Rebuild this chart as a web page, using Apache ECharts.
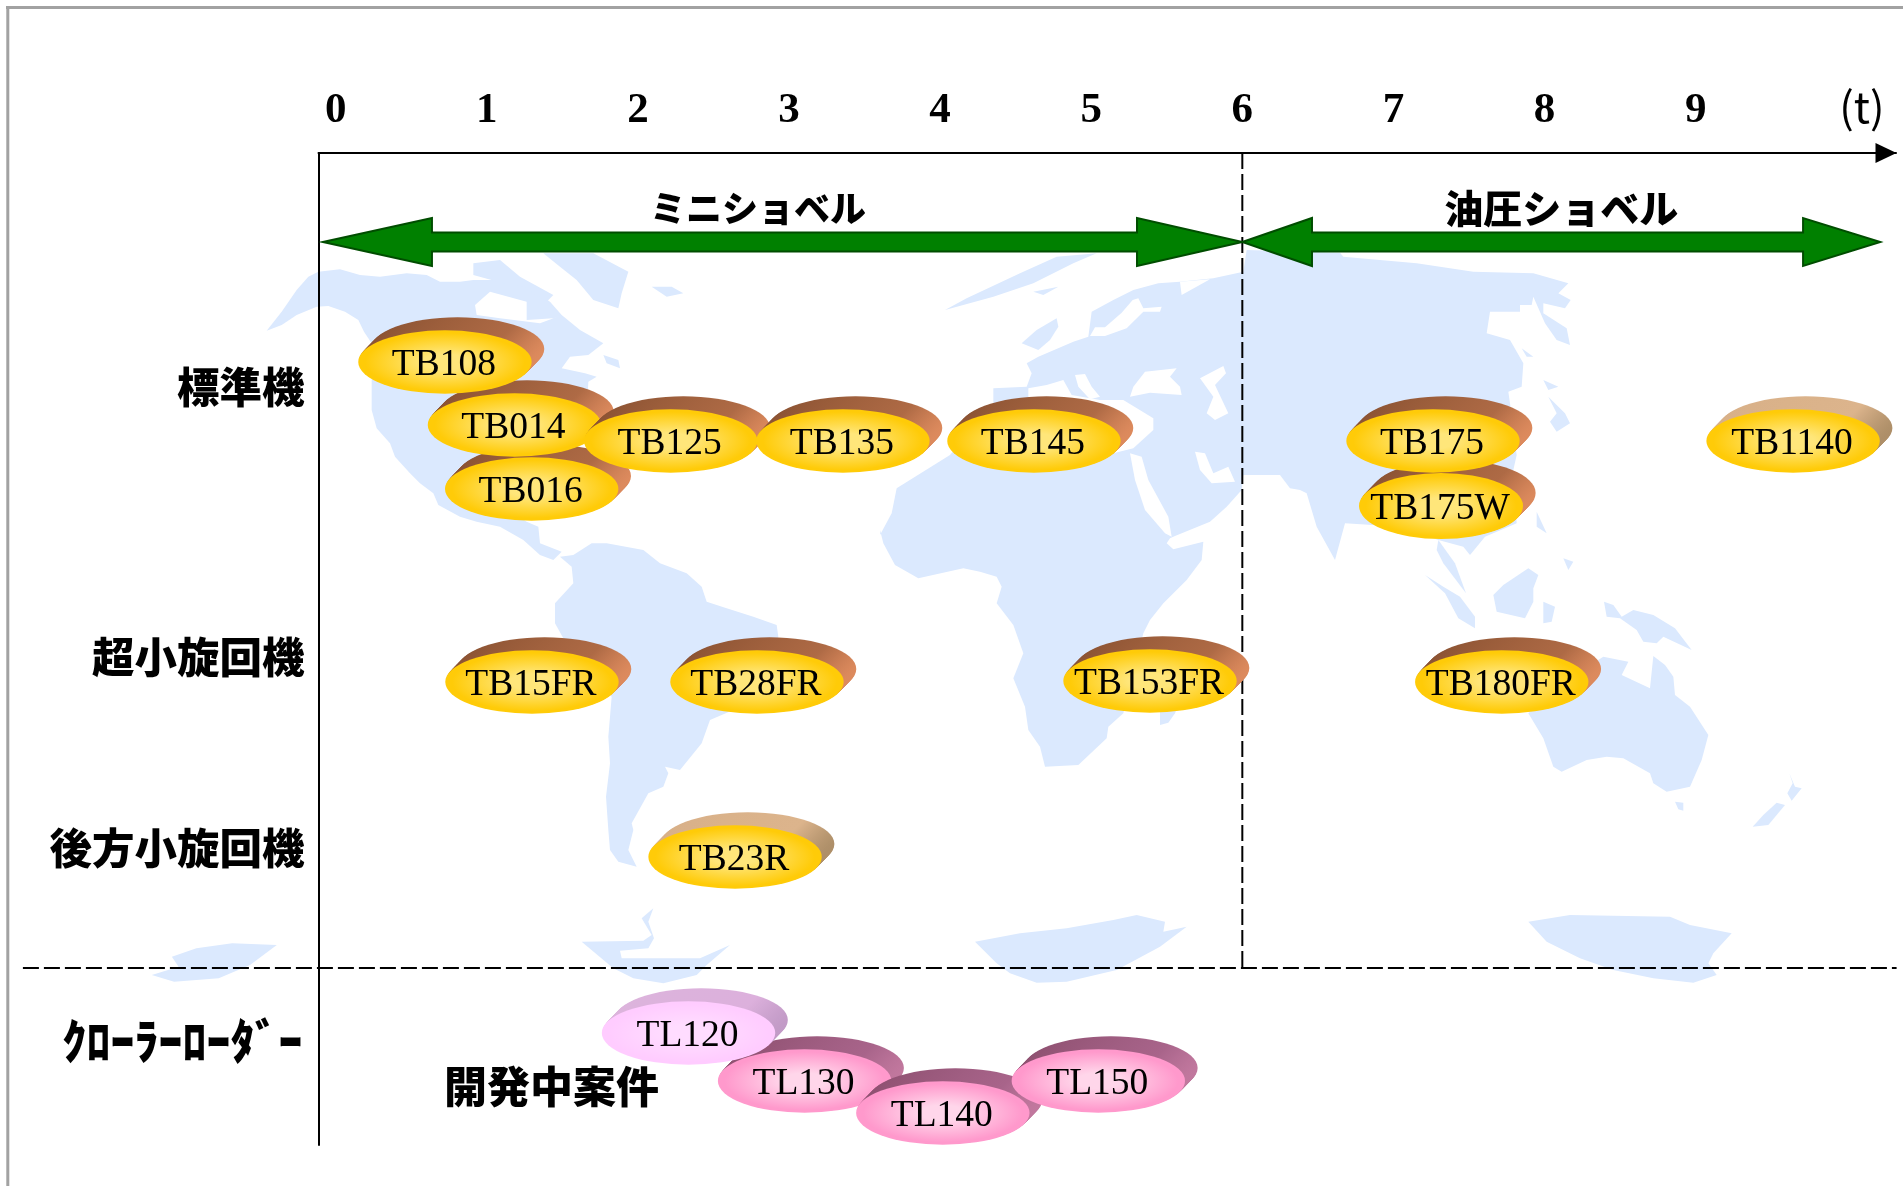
<!DOCTYPE html>
<html><head><meta charset="utf-8">
<style>html,body{margin:0;padding:0;background:#fff}#c{width:1903px;height:1186px}</style>
<script src="https://cdn.jsdelivr.net/npm/echarts@6/dist/echarts.min.js"></script>
</head><body><div id="c"></div>
<script>
// ---------- chart data ----------
const tonTicks = [0,1,2,3,4,5,6,7,8,9];
const unitLabel = '(t)';
const rowTicks = [234,504,695,888];
const rowNames = ['標準機','超小旋回機','後方小旋回機','{half|ｸﾛｰﾗｰﾛｰﾀﾞｰ}'];
// listed back-to-front
const modelNames = ['TB016','TB014','TB108','TB125','TB135','TB145','TB175W','TB175','TB1140','TB15FR','TB28FR','TB153FR','TB180FR','TB23R','TL130','TL140','TL150','TL120'];
const modelTons  = [1.297,1.183,0.723,2.217,3.357,4.621,7.315,7.262,9.645,1.299,2.788,5.389,7.717,2.643,3.103,4.018,5.047,2.335];
const modelRows  = [336,272,209,288,288,288,353,288,288,529,529,528,529,704,928,960,928,880];
const modelKinds = ['std','std','std','std','std','std','std','std','pale','std','std','std','std','pale','dev','dev','dev','devLight'];
const bandNames = ['ミニショベル','油圧ショベル'];
const bandTips  = [[-0.085,0.637,5.303,6.0],[6.0,6.461,9.711,10.222]];
const bandRow = 89;
const bandLabelTons = [2.795,8.11];
const bandLabelRow = 55;
const devLabel = '開発中案件';
const devLabelTon = 1.428, devLabelRow = 934;
const unitTon = 10.10, unitRow = -46;
const splitTon = 6, splitRow = 815, axisStartRow = 0, lineLeftTon = -2.07, lineRightTon = 10.33;

// ---------- background world map (traced outlines, crop frame: origin + 3x pixels) ----------
const crop = (ox,oy,pts) => pts.map(p => [ox+p[0]/3, oy+p[1]/3]);
const landNorthAmerica = crop(260,240,[[20,272],[65,255],[110,225],[170,200],[205,198],[255,215],[295,240],[312,275],[335,310],[335,420],[335,510],[350,565],[390,610],[405,650],[450,700],[480,730],[520,760],[535,795],[600,830],[650,845],[720,860],[790,900],[840,945],[880,960],[905,935],[840,910],[835,860],[800,845],[700,780],[980,520],[985,425],[1010,410],[975,400],[905,385],[930,350],[985,345],[1030,310],[960,270],[905,225],[870,185],[800,140],[720,120],[640,120],[600,125],[540,125],[500,105],[440,100],[360,110],[300,105],[240,88],[175,95],[145,110],[110,150],[65,215]]);
const landArctic = crop(260,240,[[640,70],[720,60],[780,110],[880,165],[860,185],[790,140],[730,130],[640,105]]);
const landGreenland = crop(260,240,[[850,40],[1000,40],[1105,95],[1085,160],[1075,205],[1000,180],[950,120],[900,80]]);
const landIceland = crop(260,240,[[1175,140],[1235,140],[1270,160],[1220,170]]);
const landNewfoundland = crop(260,240,[[1030,345],[1075,360],[1080,385],[1040,370]]);
const landSouthAmerica = crop(520,530,[[120,80],[155,110],[160,160],[105,220],[105,280],[130,325],[275,500],[265,620],[270,700],[258,800],[265,900],[270,960],[295,995],[350,1010],[325,960],[340,900],[335,880],[385,790],[430,770],[445,730],[435,710],[480,720],[545,640],[570,570],[640,540],[775,320],[770,285],[700,260],[620,235],[560,215],[545,170],[500,130],[420,100],[370,60],[260,40],[215,40],[160,75]]);
const landEurasiaAfrica = [].concat(
  crop(780,240,[[740,370],[775,350],[880,305],[925,290],[935,215],[1000,180],[1060,150],[1135,130],[1200,125],[1300,115],[1390,95],[1400,30]]),
  crop(1300,240,[[120,38],[130,50],[240,60],[350,70],[520,95],[700,100],[805,130],[775,160],[812,180],[795,205],[730,190],[730,220],[800,265],[810,315],[770,300],[735,250],[700,170],[695,195],[660,195],[660,215],[570,215],[560,280],[630,300],[670,370],[665,440],[625,455],[630,490],[650,645],[640,690],[650,850],[555,890],[510,945],[490,920],[415,900],[300,860],[135,850],[105,960],[50,860],[20,760],[0,750]]),
  crop(780,240,[[1530,745],[1500,705],[1390,705],[1385,750],[1340,800],[1290,845],[1185,888],[1170,895],[1160,910],[1180,928],[1270,905],[1265,960],[1220,1020],[1150,1090],[1110,1140]]),
  crop(860,530,[[850,310],[790,550],[745,590],[740,625],[655,705],[555,710],[540,650],[505,600],[495,530],[460,445],[490,370],[460,285],[410,220],[425,170],[410,140],[360,125],[310,115],[175,145],[105,105],[70,40],[60,0]]),
  crop(780,240,[[300,885],[335,820],[350,745],[510,645],[640,490],[640,445],[740,440],[755,400]])
);
const landSvalbard = crop(780,240,[[495,210],[560,175],[720,100],[830,50],[950,40],[880,70],[760,130],[640,170]]);
const landSvalbard2 = crop(780,240,[[760,155],[835,140],[790,165]]);
const landBritain = crop(780,240,[[725,310],[770,270],[830,235],[835,260],[810,300],[775,330]]);
const landMadagascar = crop(860,530,[[900,520],[960,510],[945,550],[925,578],[900,585]]);
const landSakhalin = crop(1300,240,[[665,325],[700,350],[680,350]]);
const landJapanN = crop(1300,240,[[730,420],[775,440],[745,450]]);
const landJapanS = crop(1300,240,[[745,470],[795,520],[810,550],[770,575],[750,545],[770,520]]);
const landPhilippines = crop(1300,240,[[710,815],[740,880],[710,860]]);
const landPhil2 = crop(1380,530,[[550,85],[580,95],[565,120]]);
const landMalay = crop(1380,530,[[175,30],[225,100],[258,190],[190,100],[170,60]]);
const landSumatra = crop(1380,530,[[135,135],[190,170],[240,200],[285,260],[285,295],[235,265],[195,190]]);
const landBorneo = crop(1380,530,[[340,195],[370,165],[445,115],[475,135],[460,175],[460,215],[435,265],[350,245]]);
const landSulawesi = crop(1380,530,[[490,215],[525,230],[515,275],[490,280]]);
const landGuinea = crop(1380,530,[[672,215],[700,225],[725,260],[760,240],[820,255],[885,295],[935,360],[850,320],[830,340],[790,335],[770,300],[720,265],[680,260]]);
const landAustralia = crop(1380,530,[[670,380],[745,395],[725,435],[810,475],[820,378],[855,405],[880,440],[885,495],[930,530],[985,615],[965,690],[930,770],[860,785],[820,760],[810,730],[730,685],[680,680],[620,690],[545,725],[520,710],[490,625],[445,550],[560,450]]);
const landTasmania = crop(1380,530,[[885,815],[910,818],[910,842],[895,838]]);
const landNZ1 = crop(1380,530,[[1228,730],[1245,770],[1265,775],[1235,812],[1222,790],[1238,760]]);
const landNZ2 = crop(1380,530,[[1190,818],[1215,825],[1165,885],[1118,890],[1150,855]]);
const landAnt1 = [[385,170],[440,145],[520,130],[620,135],[560,195],[490,235],[390,245],[340,225],[400,200]].map(p=>[p[0]/2.24,900+p[1]/3]);
const landAnt2 = crop(520,530,[[185,1235],[370,1232],[395,1215],[365,1165],[400,1135],[385,1175],[402,1225],[385,1255],[300,1262],[305,1285],[540,1285],[630,1245],[560,1305],[530,1335],[430,1360],[340,1345],[280,1315]]);
const landAnt3 = crop(860,530,[[345,1235],[480,1210],[620,1195],[760,1170],[830,1155],[915,1175],[910,1205],[980,1190],[900,1250],[770,1320],[620,1355],[530,1358],[450,1330],[410,1300]]);
const landAnt4 = crop(1380,530,[[445,1175],[570,1155],[870,1160],[930,1185],[1055,1210],[1000,1270],[985,1300],[1010,1335],[940,1358],[820,1345],[700,1320],[600,1285],[500,1235]]);
const waterHudson = crop(260,240,[[645,195],[690,155],[800,185],[800,240],[880,235],[915,222],[840,250],[720,235],[650,225]]);
const waterMed = crop(780,240,[[745,445],[800,435],[850,420],[875,465],[960,480],[1030,480],[1120,535],[1120,570],[1060,625],[1000,640],[800,600],[745,520]]);
const waterAdriatic = crop(780,240,[[885,405],[915,402],[935,440],[960,470],[930,478],[895,440]]);
const waterBlack = crop(780,240,[[1050,470],[1060,440],[1095,395],[1190,385],[1170,410],[1200,440],[1205,465],[1110,458]]);
const waterCaspian = crop(780,240,[[1260,415],[1330,378],[1338,400],[1305,435],[1345,520],[1305,540],[1280,520],[1300,470]]);
const waterRed = crop(780,240,[[1050,640],[1085,650],[1105,720],[1165,830],[1175,890],[1155,880],[1095,810],[1065,720]]);
const waterGulf = crop(780,240,[[1245,635],[1275,640],[1300,700],[1345,680],[1365,725],[1295,730],[1260,690]]);
const waterBaltic = crop(780,240,[[930,288],[945,262],[975,262],[1025,218],[1058,180],[1075,175],[1090,205],[1145,200],[1140,215],[1090,215],[1040,265],[975,288]]);
const waterWhite = crop(780,240,[[1200,125],[1290,118],[1205,165]]);

const lands = [landNorthAmerica,landArctic,landGreenland,landIceland,landNewfoundland,landSouthAmerica,landEurasiaAfrica,landSvalbard,landSvalbard2,landBritain,landMadagascar,landSakhalin,landJapanN,landJapanS,landPhilippines,landPhil2,landMalay,landSumatra,landBorneo,landSulawesi,landGuinea,landAustralia,landTasmania,landNZ1,landNZ2,landAnt1,landAnt2,landAnt3,landAnt4];
const waters = [waterHudson,waterMed,waterAdriatic,waterBlack,waterCaspian,waterRed,waterGulf,waterBaltic,waterWhite];
const feat = (name,ring) => ({type:'Feature',properties:{name},geometry:{type:'Polygon',coordinates:[ring.concat([ring[0]])]}});
const features = lands.map((r,i)=>feat('land'+i,r)).concat(waters.map((r,i)=>feat('water'+i,r)));
echarts.registerMap('world',{type:'FeatureCollection',features});

// ---------- styles ----------
const kindStyles = {
  std:{back:['#8a5232','#ae6a45','#e28e60'],top:['#ffe67a','#ffcb08']},
  pale:{back:['#d8b088','#dcb48c','#a88a64'],top:['#ffe67a','#ffcb08']},
  dev:{back:['#8e5070','#a8648a','#c47aa0'],top:['#ffd6ea','#ff99cc']},
  devLight:{back:['#dcb4dc','#dcb0dc','#bf98c4'],top:['#ffdcff','#ffccff']}
};
const serif = '"Liberation Serif","Times New Roman",serif';
const jp = '"Noto Sans CJK JP",sans-serif';
const shadow = {textShadowColor:'#a8a8a8',textShadowBlur:0,textShadowOffsetX:2,textShadowOffsetY:2};

function renderModel(params, api){
  const i = api.value(2);
  const name = modelNames[i], st = kindStyles[modelKinds[i]];
  const c = api.coord([api.value(0),api.value(1)]);
  const rx = name==='TB175W'?82:86.7, ry = name==='TB175W'?33:31.7;
  const children = [];
  const grad = {type:'linear',x:0,y:0.2,x2:1,y2:0.8,colorStops:[{offset:0,color:st.back[0]},{offset:0.78,color:st.back[1]},{offset:1,color:st.back[2]}]};
  for(let k=13;k>=1;k--){
    children.push({type:'ellipse',shape:{cx:c[0]+k*0.97,cy:c[1]-k,rx,ry},style:{fill:grad}});
  }
  // a circle squashed to the ellipse, so that the radial shading follows the oval
  children.push({type:'circle',x:c[0],y:c[1],scaleY:ry/rx,shape:{cx:0,cy:0,r:rx},
    style:{fill:{type:'radial',x:0.5,y:0.5,r:0.5,colorStops:[{offset:0,color:st.top[0]},{offset:0.25,color:st.top[0]},{offset:0.92,color:st.top[1]},{offset:1,color:st.top[1]}]}}});
  children.push({type:'text',style:{text:name,x:c[0]-1,y:c[1]+3.5,align:'center',verticalAlign:'middle',fontFamily:serif,fontSize:37.5,fill:'#000'}});
  return {type:'group',children};
}
function renderBand(params, api){
  const a = api.coord([api.value(0),bandRow])[0], b = api.coord([api.value(1),bandRow])[0],
        c = api.coord([api.value(2),bandRow])[0], d = api.coord([api.value(3),bandRow])[0],
        y = api.coord([0,bandRow])[1], s = 9.6, h = 24;
  return {type:'polygon',shape:{points:[[a,y],[b,y-h],[b,y-s],[c,y-s],[c,y-h],[d,y],[c,y+h],[c,y+s],[b,y+s],[b,y+h]]},
          style:{fill:'#008000',stroke:'#004d00',lineWidth:2}};
}
function renderNote(params, api){
  const i = api.value(2), n = notes[i], c = api.coord([api.value(0),api.value(1)]);
  return {type:'text',style:Object.assign({text:n.text,x:c[0],y:c[1],align:'center',verticalAlign:'middle',fill:'#000',fontFamily:jp,fontWeight:900,fontSize:n.size},n.plain?{fontWeight:400}:shadow)};
}
const notes = [
  {text:bandNames[0],ton:bandLabelTons[0],row:bandLabelRow,size:36},
  {text:bandNames[1],ton:bandLabelTons[1],row:bandLabelRow,size:39},
  {text:devLabel,ton:devLabelTon,row:devLabelRow,size:43},
  {text:unitLabel,ton:unitTon,row:unitRow,size:43,plain:true}
];

const chart = echarts.init(document.getElementById('c'),null,{renderer:'canvas'});
chart.setOption({
  animation:false,
  backgroundColor:'#fff',
  graphic:[
    {type:'line',shape:{x1:7.8,y1:6,x2:7.8,y2:1186},style:{stroke:'#a2a2a2',lineWidth:3},silent:true},
    {type:'line',shape:{x1:6,y1:7.5,x2:1903,y2:7.5},style:{stroke:'#a2a2a2',lineWidth:3},silent:true}
  ],
  geo:{map:'world',left:0,top:0,width:1903,height:1186,silent:true,z:0,
    boundingCoords:[[0,0],[1903,1186]],
    projection:{project:p=>p,unproject:p=>p},
    label:{show:false},
    itemStyle:{areaColor:'#dbe9fe',borderWidth:0},
    regions:waters.map((r,i)=>({name:'water'+i,itemStyle:{areaColor:'#ffffff',borderWidth:0}}))
  },
  grid:{left:318.5,right:7,top:153,bottom:41},
  xAxis:{type:'value',position:'top',min:-0.1138,max:10.326,
    axisLine:{show:true,onZero:false,lineStyle:{color:'#000',width:2},symbol:['none','triangle'],symbolSize:[20,21],symbolOffset:[0,-10]},
    axisTick:{show:false},splitLine:{show:false},
    axisLabel:{customValues:tonTicks,fontFamily:serif,fontWeight:'bold',fontSize:43,color:'#000',margin:21}},
  yAxis:{type:'value',inverse:true,min:0,max:992,
    axisLine:{show:true,onZero:false,lineStyle:{color:'#000',width:2}},
    axisTick:{show:false},splitLine:{show:false},
    axisLabel:Object.assign({customValues:rowTicks,formatter:v=>rowNames[rowTicks.indexOf(v)],
      fontFamily:jp,fontWeight:900,fontSize:42.5,color:'#000',margin:14,
      rich:{half:{fontFamily:jp,fontWeight:900,fontSize:48,color:'#000',padding:[0,2,0,0]}}},shadow)},
  series:[
    {type:'custom',name:'dividers',coordinateSystem:'cartesian2d',silent:true,z:3,clip:false,
     data:[[splitTon,axisStartRow,splitTon,splitRow],[lineLeftTon,splitRow,lineRightTon,splitRow]],
     encode:{x:[0,2],y:[1,3]},
     renderItem:(p,api)=>{const a=api.coord([api.value(0),api.value(1)]),b=api.coord([api.value(2),api.value(3)]);
       return {type:'line',shape:{x1:a[0],y1:a[1],x2:b[0],y2:b[1]},style:{stroke:'#000',lineWidth:2,lineDash:[16,5]}};}},
    {type:'custom',name:'bands',coordinateSystem:'cartesian2d',silent:true,z:4,clip:false,
     data:bandTips,encode:{x:[0,3]},renderItem:renderBand},
    {type:'custom',name:'models',coordinateSystem:'cartesian2d',silent:true,z:5,clip:false,
     data:modelNames.map((n,i)=>[modelTons[i],modelRows[i],i]),encode:{x:0,y:1},renderItem:renderModel},
    {type:'custom',name:'notes',coordinateSystem:'cartesian2d',silent:true,z:6,clip:false,
     data:notes.map((n,i)=>[n.ton,n.row,i]),encode:{x:0,y:1},renderItem:renderNote}
  ]
});
</script></body></html>
